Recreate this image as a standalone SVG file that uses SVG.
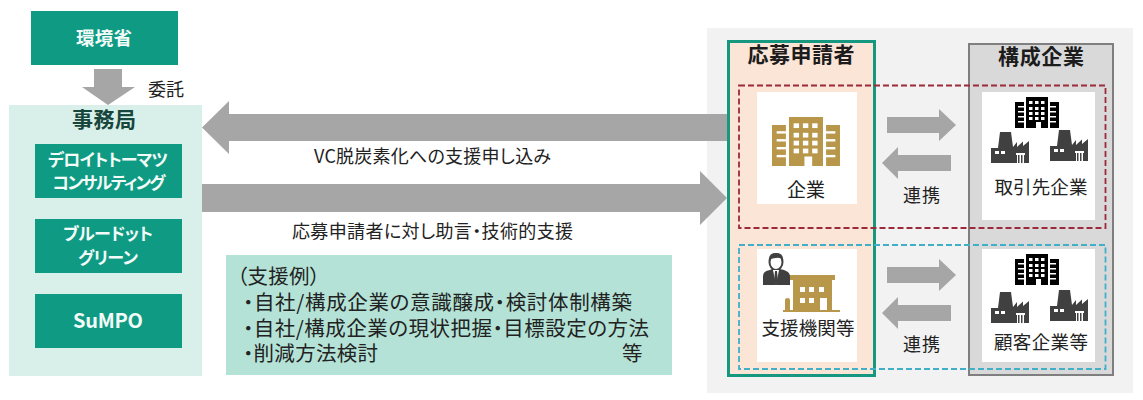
<svg xmlns="http://www.w3.org/2000/svg" width="1143" height="400" viewBox="0 0 1143 400">
<style>
text{font-family:"Noto Sans CJK JP","Noto Sans",sans-serif;fill:#222;font-size:18px;font-feature-settings:"palt"}
.c{text-anchor:middle}
.w{fill:#f2fbf8;font-weight:700;font-size:17px}
.b{font-weight:700;font-size:21px;fill:#1c1c1c}
.t{fill:#0f9a83}
.ar{fill:#a6a6a6}
.win{fill:#fff}
.big{font-size:20.5px}
</style>
<defs>
<g id="factory">
<path fill="#404040" d="M0 31V16H7L9 0H20L22 15L26 10V15L32 9.5V14L38 9V31Z"/>
<rect class="win" x="4" y="19" width="4" height="3"/><rect class="win" x="10" y="19" width="4" height="3"/>
<path class="win" d="M25 21H34V23H33V31H31.5V23H30V31H28.500V23H27V31H26V23H25Z"/>
</g>
<g id="tower">
<path d="M0 5H9V31H0ZM11 0H33V31H26V25H21V31H11ZM35 5H44V31H35Z"/>
<g class="win">
<rect x="14" y="4" width="3.500" height="3"/><rect x="20" y="4" width="3.500" height="3"/><rect x="26" y="4" width="3.500" height="3"/>
<rect x="14" y="10" width="3.500" height="3"/><rect x="20" y="10" width="3.500" height="3"/><rect x="26" y="10" width="3.500" height="3"/>
<rect x="14" y="15" width="3.500" height="3"/><rect x="20" y="15" width="3.500" height="3"/><rect x="26" y="15" width="3.500" height="3"/>
<rect x="14" y="20" width="3.500" height="3"/><rect x="20" y="20" width="3.500" height="3"/><rect x="26" y="20" width="3.500" height="3"/>
<rect x="3" y="9" width="6" height="1.500"/><rect x="3" y="14" width="6" height="1.500"/><rect x="3" y="19" width="6" height="1.500"/><rect x="3" y="24" width="6" height="1.500"/>
<rect x="35" y="9" width="6" height="1.500"/><rect x="35" y="14" width="6" height="1.500"/><rect x="35" y="19" width="6" height="1.500"/><rect x="35" y="24" width="6" height="1.500"/>
</g>
</g>
</defs>
<rect width="1143" height="400" fill="#fff"/>

<g id="applicant-panel">
<rect x="707" y="28" width="426" height="365" fill="#f2f2f2"/>
</g>

<g id="ministry">
<rect class="t" x="31" y="11" width="147" height="54"/>
<text class="c w" x="104" y="45" style="font-size:18.500px" textLength="56">環境省</text>
</g>
<g id="secretariat">
<rect x="9" y="105" width="193" height="271" fill="#d9f0ea"/>
<text class="c" x="104" y="127" style="font-weight:700;font-size:21px;fill:#17463d" textLength="64">事務局</text>
</g>
<g id="deloitte">
<rect class="t" x="35" y="144" width="147" height="54"/>
<text class="c w" x="108" y="166" textLength="120">デロイトトーマツ</text>
<text class="c w" x="109" y="189" textLength="113">コンサルティング</text>
</g>
<g id="bluedot">
<rect class="t" x="35" y="219" width="147" height="54"/>
<text class="c w" x="108" y="240" textLength="90">ブルードット</text>
<text class="c w" x="108" y="264" textLength="60">グリーン</text>
</g>
<g id="sumpo">
<rect class="t" x="35" y="294" width="147" height="54"/>
<text class="c w" x="108" y="328" style="font-size:20px" textLength="70">SuMPO</text>
</g>
<g id="support-examples">
<rect x="226" y="255" width="446" height="120" fill="#b4e2d6"/>
<text class="big"><tspan x="237" y="284" textLength="83">（支援例）</tspan><tspan x="243" y="310" textLength="389">・自社/構成企業の意識醸成・検討体制構築</tspan><tspan x="243" y="336" textLength="406">・自社/構成企業の現状把握・目標設定の方法</tspan><tspan x="243" y="361" textLength="135">・削減方法検討</tspan><tspan x="622" y="361">等</tspan></text>
</g>

<g id="applicant">
<rect x="728.500" y="41.500" width="146" height="334" fill="#fbe5d6" stroke="#15987f" stroke-width="3"/>
<text class="c b" x="801" y="62" textLength="107">応募申請者</text>
</g>
<g id="members">
<rect x="969" y="44" width="144" height="331" fill="#d9d9d9" stroke="#7f7f7f" stroke-width="2"/>
<text class="c b" x="1041" y="64" textLength="86">構成企業</text>
</g>

<g id="company">
<rect x="757" y="92" width="100" height="112" fill="#fff"/>
<g fill="#b8974a">
<use href="#tower" transform="translate(772 117) scale(1.545 1.58)"/>
</g>
<text class="c" x="806" y="197" style="font-size:19px" textLength="38">企業</text>
</g>
<g id="partner">
<rect x="982" y="92" width="113" height="128" fill="#fff"/>
<use href="#tower" transform="translate(1015 97)" fill="#000"/>
<use href="#factory" transform="translate(991 132)"/>
<use href="#factory" transform="translate(1050 130)"/>
<text class="c" x="1041" y="194" style="font-size:18.500px" textLength="93">取引先企業</text>
</g>
<g id="support-org">
<rect x="757" y="249" width="100" height="113" fill="#fff"/>
<path fill="#b8974a" d="M790 275H835V280H832V310H840V312H783V310H785V300Q785 298 787.500 298Q790 298 790 300V310H793V280H790Z"/>
<g class="win">
<rect x="800" y="287" width="5" height="5"/><rect x="809" y="287" width="5" height="5"/><rect x="819" y="287" width="5" height="5"/>
<rect x="800" y="298" width="5" height="5"/><rect x="809" y="298" width="5" height="5"/><rect x="820" y="298" width="7" height="12"/>
</g>
<path fill="#404040" d="M763 285V276Q763 271 770 270L772 269H780L784 270Q790 272 790 276V285Z"/>
<ellipse cx="776" cy="262" rx="6.500" ry="8" fill="#fff" stroke="#404040" stroke-width="2"/>
<path fill="#404040" d="M769 261Q768 253 776 253Q784 253 783 261Q781 257 776 258Q771 258 769 261Z"/>
<path fill="#fff" d="M773 270H779L776 285Z"/>
<path fill="#404040" d="M775 271H777L778 282L776 285L774 282Z"/>
<text class="c" x="808" y="335" style="font-size:18.500px" textLength="93">支援機関等</text>
</g>
<g id="customer">
<rect x="982" y="249" width="113" height="113" fill="#fff"/>
<use href="#tower" transform="translate(1015 254)" fill="#000"/>
<use href="#factory" transform="translate(991 292)"/>
<use href="#factory" transform="translate(1050 290)"/>
<text class="c" x="1041" y="349" style="font-size:18.500px" textLength="94">顧客企業等</text>
</g>
<g id="groups" fill="none" stroke-width="1.800" stroke-dasharray="6 3">
<rect x="739" y="85.500" width="366.500" height="142.500" stroke="#9c2a3a"/>
<rect x="739" y="245" width="366.500" height="124" stroke="#3fb0c8"/>
</g>

<g id="connectors" class="ar">
<path d="M94 69H122V87H135L108 105L82 87H94Z"/>
<path d="M727 114V141H229V154L202 127.500L229 101V114Z"/>
<path d="M202 184H700V171L727 198L700 225V212H202Z"/>
<path d="M887 117H939V109L956 125L939 141V133H887Z"/>
<path d="M951 155H898V147L882 163L898 179V171H951Z"/>
<path d="M887 267H939V259L956 275L939 291V283H887Z"/>
<path d="M951 305H898V297L882 313L898 329V321H951Z"/>
</g>
<g id="connector-labels">
<text x="148" y="96" textLength="36">委託</text>
<text x="314" y="163" textLength="237">VC脱炭素化への支援申し込み</text>
<text x="292" y="238" textLength="281">応募申請者に対し助言・技術的支援</text>
<text class="c" x="921.500" y="202" textLength="37">連携</text>
<text class="c" x="921.500" y="351" textLength="37">連携</text>
</g>
</svg>
